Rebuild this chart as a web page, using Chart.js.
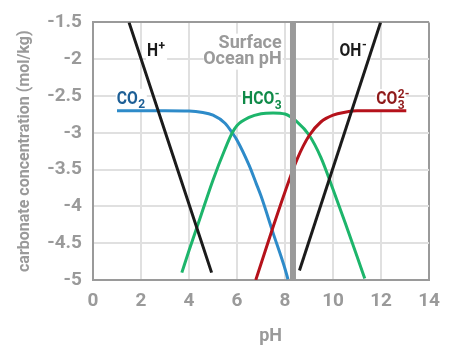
<!DOCTYPE html>
<html>
<head>
<meta charset="utf-8">
<script src="https://cdn.jsdelivr.net/npm/chart.js@4.4.0/dist/chart.umd.min.js"></script>
<style>
    html, body { margin: 0; padding: 0; background: #fff; }
    #wrap { width: 450px; height: 354px; }
</style>
</head>
<body>
<div id="wrap"><canvas id="bjerrum" width="450" height="354"></canvas></div>
<script>
// Axis ticks
const xTicks = [0, 2, 4, 6, 8, 10, 12, 14];
const yTicks = [-5, -4.5, -4, -3.5, -3, -2.5, -2, -1.5];

// Species curves (pH, log concentration)
const hPh = [1.5, 4.94];
const hLog = [-1.5, -4.9];
const ohPh = [8.6, 11.98];
const ohLog = [-4.87, -1.5];
const co2Ph = [1.0, 2.0, 3.0, 4.0, 4.5, 5.0, 5.5, 5.8, 6.0, 6.5, 6.8, 7.0, 7.5, 8.0, 8.12];
const co2Log = [-2.7, -2.7, -2.7, -2.705, -2.72, -2.76, -2.87, -3.0, -3.1, -3.44, -3.69, -3.86, -4.36, -4.85, -4.99];
const hco3Ph = [3.7, 4.0, 4.5, 5.0, 5.5, 5.8, 6.0, 6.5, 7.0, 7.5, 8.0, 8.5, 9.0, 9.5, 10.0, 10.5, 11.0, 11.32];
const hco3Log = [-4.9, -4.6, -4.12, -3.64, -3.22, -3.0, -2.9, -2.79, -2.74, -2.73, -2.745, -2.85, -3.03, -3.34, -3.77, -4.22, -4.68, -4.98];
const co3Ph = [6.78, 7.0, 7.5, 8.0, 8.5, 9.0, 9.5, 10.0, 10.5, 11.0, 12.0, 13.05];
const co3Log = [-5.0, -4.78, -4.28, -3.8, -3.36, -3.04, -2.85, -2.76, -2.72, -2.7, -2.7, -2.7];
const surfacePh = 8.33;

const grey = '#9a9a9a';

function pairs(xs, ys) {
    return xs.map((x, i) => ({ x: x, y: ys[i] }));
}

function line(label, xs, ys, color) {
    return {
        label: label,
        data: pairs(xs, ys),
        borderColor: color,
        borderWidth: 3,
        pointRadius: 0,
        cubicInterpolationMode: 'monotone',
        fill: false
    };
}

// Species labels: main text, subscript, superscript, anchor (pH, log) at left/baseline
const speciesLabels = [
    { main: 'H', sub: '', sup: '+', ph: 2.25, log: -1.962, color: '#1b1b1b' },
    { main: 'CO', sub: '2', sup: '', ph: 0.99, log: -2.606, color: '#1d5f96' },
    { main: 'HCO', sub: '3', sup: '-', ph: 6.21, log: -2.61, color: '#0f8a48' },
    { main: 'OH', sub: '', sup: '-', ph: 10.27, log: -1.953, color: '#1b1b1b' },
    { main: 'CO', sub: '3', sup: '2-', ph: 11.8, log: -2.61, color: '#8f1a1a' }
];

function labelBoxes(ctx, chart) {
    const xs = chart.scales.x, ys = chart.scales.y;
    ctx.font = 'bold 18px Roboto';
    return speciesLabels.map(l => {
        const x = xs.getPixelForValue(l.ph);
        const y = ys.getPixelForValue(l.log);
        const w = ctx.measureText(l.main).width * 0.87;
        return { l: l, x: x, y: y, w: w };
    });
}

const labelPlugin = {
    id: 'labels',
    beforeDatasetsDraw(chart) {
        const ctx = chart.ctx;
        ctx.save();
        ctx.fillStyle = '#fff';
        labelBoxes(ctx, chart).forEach(b => {
            ctx.fillRect(b.x - 1, b.y - 15, b.w + 10, 21);
        });
        // knockout behind "Surface Ocean pH"
        const sx = chart.scales.x.getPixelForValue(7.86);
        const sy = chart.scales.y.getPixelForValue(-1.843);
        ctx.fillRect(sx - 78, sy - 14, 79, 36);
        ctx.restore();
    },
    afterDatasetsDraw(chart) {
        const ctx = chart.ctx;
        ctx.save();
        ctx.textBaseline = 'alphabetic';
        labelBoxes(ctx, chart).forEach(b => {
            ctx.fillStyle = b.l.color;
            ctx.save();
            ctx.translate(b.x, b.y);
            ctx.scale(0.87, 1);
            ctx.font = 'bold 18px Roboto';
            ctx.textAlign = 'left';
            ctx.fillText(b.l.main, 0, 0);
            ctx.restore();
            ctx.font = 'bold 12px Roboto';
            if (b.l.sub) ctx.fillText(b.l.sub, b.x + b.w + 0.5, b.y + 4.5);
            if (b.l.sup) ctx.fillText(b.l.sup, b.x + b.w + 0.5, b.y - 6.5);
        });

        // Surface Ocean pH note
        const xs = chart.scales.x, ys = chart.scales.y;
        ctx.fillStyle = grey;
        ctx.font = 'bold 18px Roboto';
        ctx.textAlign = 'right';
        const rx = xs.getPixelForValue(7.86);
        ctx.fillText('Surface', rx, ys.getPixelForValue(-1.843));
        ctx.fillText('Ocean pH', rx, ys.getPixelForValue(-2.068));

        // x axis title
        ctx.textAlign = 'center';
        ctx.fillText('pH', xs.getPixelForValue(7.4), chart.chartArea.bottom + 61);
        ctx.restore();
    }
};

document.addEventListener('DOMContentLoaded', function () {
    const ctx = document.getElementById('bjerrum').getContext('2d');

    new Chart(ctx, {
        type: 'scatter',
        data: {
            datasets: [
                {
                    label: 'Surface Ocean pH',
                    data: pairs([surfacePh, surfacePh], [yTicks[0], yTicks[yTicks.length - 1]]),
                    borderColor: grey,
                    borderWidth: 6,
                    pointRadius: 0,
                    showLine: true
                },
                line('H+', hPh, hLog, '#1b1b1b'),
                line('OH-', ohPh, ohLog, '#1b1b1b'),
                line('CO3 2-', co3Ph, co3Log, '#b5121b'),
                line('HCO3-', hco3Ph, hco3Log, '#1db56b'),
                line('CO2', co2Ph, co2Log, '#2e8bc9')
            ].map(d => Object.assign({ showLine: true }, d))
        },
        options: {
            responsive: false,
            animation: false,
            devicePixelRatio: 1,
            layout: { padding: { left: 0, right: 20.5, top: 15, bottom: 0 } },
            plugins: {
                legend: { display: false },
                tooltip: { enabled: false }
            },
            scales: {
                x: {
                    type: 'linear',
                    min: 0,
                    max: 14,
                    afterBuildTicks: s => { s.ticks = xTicks.map(v => ({ value: v })); },
                    afterFit: s => { s.height = 74; },
                    grid: {
                        drawTicks: false,
                        lineWidth: 2,
                        color: c => (c.tick && c.tick.value === 14 ? grey : '#e0e0e0')
                    },
                    border: { color: grey, width: 2 },
                    ticks: {
                        padding: 10,
                        color: grey,
                        font: { family: 'Roboto', size: 19, weight: 'bold' },
                        callback: v => String(v)
                    }
                },
                y: {
                    type: 'linear',
                    min: -5,
                    max: -1.5,
                    afterBuildTicks: s => { s.ticks = yTicks.map(v => ({ value: v })); },
                    afterFit: s => { s.width = 93; },
                    grid: {
                        drawTicks: false,
                        lineWidth: 2,
                        color: c => (c.tick && c.tick.value === -1.5 ? grey : '#e0e0e0')
                    },
                    border: { color: grey, width: 2 },
                    title: {
                        display: true,
                        text: 'carbonate concentration (mol/kg)',
                        color: grey,
                        font: { family: 'Roboto', size: 16, weight: 'bold' },
                        padding: { top: 15, bottom: 0 }
                    },
                    ticks: {
                        padding: 11,
                        color: grey,
                        font: { family: 'Roboto', size: 19, weight: 'bold' },
                        callback: v => String(v)
                    }
                }
            }
        },
        plugins: [labelPlugin]
    });
});
</script>
</body>
</html>
